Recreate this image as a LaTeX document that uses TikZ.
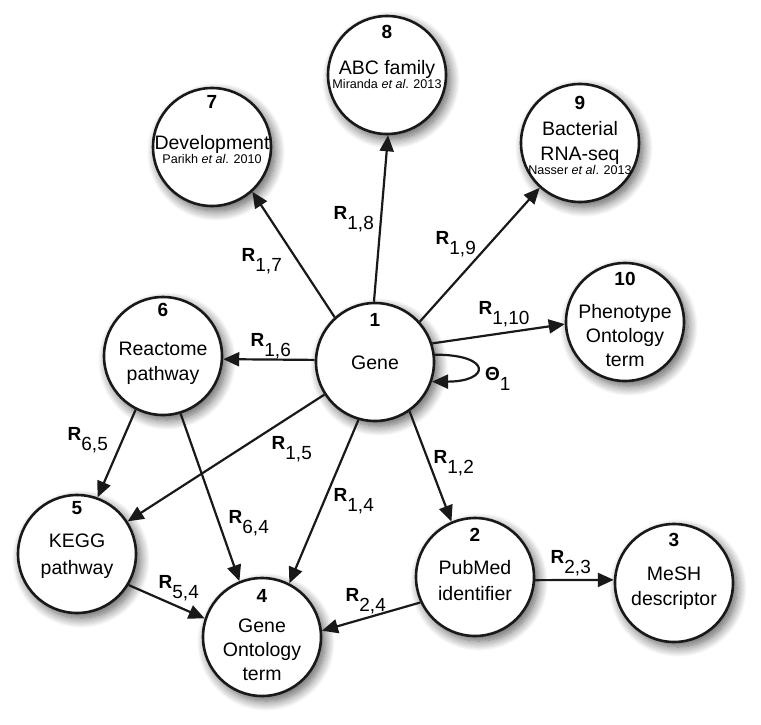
\documentclass[tikz,border=0pt]{standalone}
\usepackage{fontspec}
\setmainfont{Liberation Sans}
\usetikzlibrary{arrows.meta,shadows.blur,calc}
\newcommand{\relab}[1]{\textbf{R}\raisebox{-0.5em}{#1}}
\begin{document}
\begin{tikzpicture}[x=1pt,y=-1pt,
  ent/.style={circle, draw=black!90, line width=2.6pt, fill=white, minimum size=118pt, inner sep=0pt,
    blur shadow={shadow xshift=4pt, shadow yshift=-5pt, shadow blur radius=10pt, shadow blur steps=14, shadow opacity=65}},
  num/.style={font=\fontsize{19}{22}\selectfont\bfseries, inner sep=0pt, text height=13.5pt, text depth=0pt},
  txt/.style={font=\fontsize{19.5}{23}\selectfont, inner sep=0pt, text height=14pt, text depth=0pt},
  cite/.style={font=\fontsize{12.6}{14}\selectfont, inner sep=0pt, text height=9pt, text depth=0pt},
  rel/.style={font=\fontsize{19}{22}\selectfont, inner sep=0pt, anchor=base west},
  arr/.style={line width=2.2pt, draw=black!90, -{Triangle[length=16pt,width=14pt]}},
]
\useasboundingbox (0,0) rectangle (761,724);

% circles
\node[ent] (n1) at (375,362) {};
\node[ent] (n2) at (475,577) {};
\node[ent] (n3) at (674,583) {};
\node[ent] (n4) at (262,637) {};
\node[ent] (n5) at (77,554) {};
\node[ent] (n6) at (163,356) {};
\node[ent] (n7) at (212,147) {};
\node[ent] (n8) at (387,75) {};
\node[ent] (n9) at (580,143) {};
\node[ent] (n10) at (625,322) {};

% texts
\node[num] (t1n) at ($(n1)+(0,-42)$) {1};
\node[txt] (t1a) at ($(n1)+(0,0)$) {Gene};

\node[num] (t2n) at ($(n2)+(0,-42)$) {2};
\node[txt] (t2a) at ($(n2)+(0,-10)$) {PubMed};
\node[txt] (t2b) at ($(n2)+(0,16)$) {identifier};

\node[num] (t3n) at ($(n3)+(0,-43)$) {3};
\node[txt] (t3a) at ($(n3)+(0,-10)$) {MeSH};
\node[txt] (t3b) at ($(n3)+(0,15)$) {descriptor};

\node[num] (t4n) at ($(n4)+(0,-41)$) {4};
\node[txt] (t4a) at ($(n4)+(0,-12)$) {Gene};
\node[txt] (t4b) at ($(n4)+(0,12)$) {Ontology};
\node[txt] (t4c) at ($(n4)+(0,36)$) {term};

\node[num] (t5n) at ($(n5)+(0,-46)$) {5};
\node[txt] (t5a) at ($(n5)+(0,-14)$) {KEGG};
\node[txt] (t5b) at ($(n5)+(0,13)$) {pathway};

\node[num] (t6n) at ($(n6)+(0,-46)$) {6};
\node[txt] (t6a) at ($(n6)+(0,-8)$) {Reactome};
\node[txt] (t6b) at ($(n6)+(0,17)$) {pathway};

\node[num] (t7n) at ($(n7)+(0,-45)$) {7};
\node[txt] (t7a) at ($(n7)+(0,-5)$) {Development};
\node[cite] (t7b) at ($(n7)+(0,12)$) {Parikh \textit{et al}. 2010};

\node[num] (t8n) at ($(n8)+(0,-43)$) {8};
\node[txt] (t8a) at ($(n8)+(0,-8)$) {ABC family};
\node[cite] (t8b) at ($(n8)+(0,9)$) {Miranda \textit{et al}. 2013};

\node[num] (t9n) at ($(n9)+(0,-40)$) {9};
\node[txt] (t9a) at ($(n9)+(0,-15)$) {Bacterial};
\node[txt] (t9b) at ($(n9)+(0,10)$) {RNA-seq};
\node[cite] (t9c) at ($(n9)+(0,27)$) {Nasser \textit{et al}. 2013};

\node[num] (t10n) at ($(n10)+(0,-43)$) {10};
\node[txt] (t10a) at ($(n10)+(0,-11)$) {Phenotype};
\node[txt] (t10b) at ($(n10)+(0,13)$) {Ontology};
\node[txt] (t10c) at ($(n10)+(0,37)$) {term};

% connectors
\draw[arr] (n1.132) -- (n7.312);
\draw[arr] (n1.91) -- (n8.271);
\draw[arr] (n1.42) -- (n9.228);
\draw[arr] (n1.18) -- (n10.182);
\draw[arr] (n1.178) -- (n6.357);
\draw[arr] (n1) -- (n5);
\draw[arr] (n1.254) -- (n4.63);
\draw[arr] (n1.305) -- (n2.113);
\draw[arr] (n6.243) -- (n5.70);
\draw[arr] (n6.287) -- (n4.112);
\draw[arr] (n5.329) -- (n4.162);
\draw[arr] (n2.205) -- (n4.6);
\draw[arr] (n2.-3) -- (n3.177);
\draw[arr] (n1.7) .. controls +(58,0) and +(58,0) .. (n1.-19);

% relation labels
\node[rel] (r17) at (241.5,261.5) {\relab{1,7}};
\node[rel] (r18) at (333.5,219.5) {\relab{1,8}};
\node[rel] (r19) at (435.5,244.5) {\relab{1,9}};
\node[rel] (r110) at (478.5,314.5) {\relab{1,10}};
\node[rel] (r16) at (250.5,346.5) {\relab{1,6}};
\node[rel] (r15) at (271.5,449.5) {\relab{1,5}};
\node[rel] (r64) at (228.5,523.5) {\relab{6,4}};
\node[rel] (r14) at (333.5,501.5) {\relab{1,4}};
\node[rel] (r65) at (67.5,440.5) {\relab{6,5}};
\node[rel] (r54) at (158.5,588.5) {\relab{5,4}};
\node[rel] (r24) at (345.5,601.5) {\relab{2,4}};
\node[rel] (r23) at (550.5,563.5) {\relab{2,3}};
\node[rel] (r12) at (433.5,463.5) {\relab{1,2}};
\node[rel] (th1) at (485,380.5) {\textbf{Θ}\raisebox{-0.5em}{1}};
\end{tikzpicture}
\end{document}
